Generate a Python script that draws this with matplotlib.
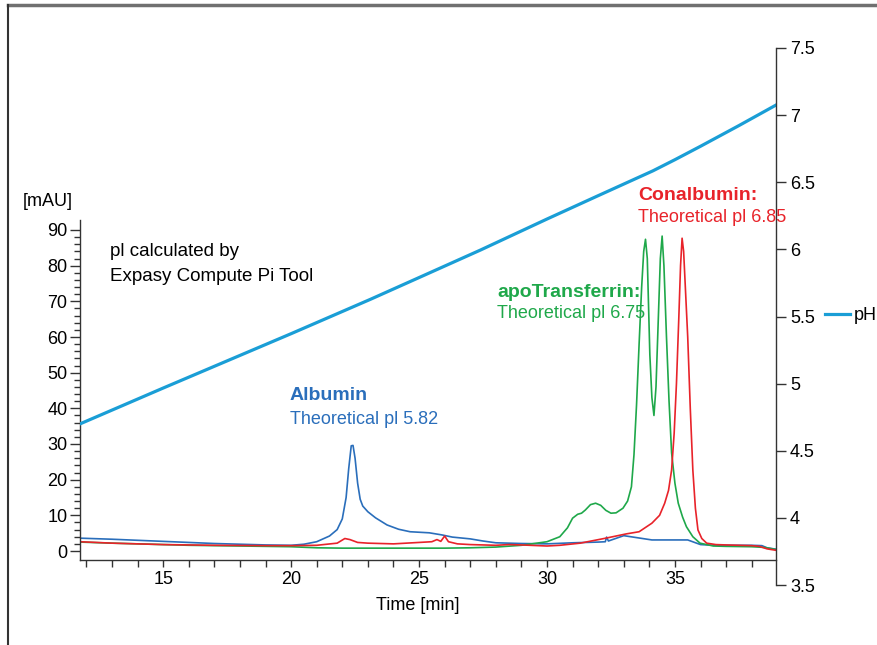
import numpy as np
import matplotlib
matplotlib.use('Agg')
import matplotlib.pyplot as plt
from matplotlib.lines import Line2D
from matplotlib.ticker import FixedLocator, FormatStrFormatter

plt.rcParams['font.family'] = ['Liberation Sans Narrow', 'Liberation Sans', 'DejaVu Sans']

# pH gradient (right axis)
ph_time = [11.75, 15, 20, 23.1, 25, 27.4, 30, 32, 34.14, 35, 36, 37.5, 38.95]
ph_value = [4.70, 4.967, 5.372, 5.628, 5.79, 5.995, 6.226, 6.40, 6.585, 6.668, 6.768, 6.922,
            7.075]

# Albumin trace
alb_time = [11.75, 13, 14, 15, 16, 17, 18, 19, 20, 20.5, 21.0, 21.5, 21.8, 22.0, 22.15,
            22.25, 22.35, 22.42, 22.5, 22.6, 22.7, 22.8, 23.0, 23.3, 23.75, 24.2, 24.65,
            25.4, 25.9, 26.3, 27.0, 27.5, 28, 29, 30, 31, 32, 32.28, 32.33, 32.4, 33,
            34.1, 35.5, 36, 36.5, 37, 38, 38.4, 38.6, 38.95]
alb_mau = [3.6, 3.3, 3.0, 2.7, 2.4, 2.1, 1.9, 1.7, 1.6, 1.9, 2.6, 4.2, 6.0, 9.0, 15,
           23, 29.5, 29.6, 26, 19, 14.5, 12.6, 11.0, 9.3, 7.3, 6.1, 5.4,
           5.1, 4.5, 3.9, 3.4, 2.8, 2.3, 2.1, 2.0, 2.3, 2.5, 2.6, 3.9, 2.8, 4.3,
           3.1, 3.1, 1.8, 1.6, 1.6, 1.6, 1.5, 0.9, 0.5]

# apoTransferrin trace
apo_time = [11.75, 13, 14, 15, 16, 17, 18, 19, 20, 21, 22, 24, 26, 27, 28, 29, 30, 30.5,
            30.8, 31.0, 31.2, 31.35, 31.5, 31.7, 31.9, 32.1, 32.3, 32.5, 32.7, 32.97,
            33.15, 33.3, 33.4, 33.5, 33.6, 33.7, 33.78, 33.85, 33.92, 34.02, 34.1, 34.18,
            34.26, 34.35, 34.43, 34.5, 34.57, 34.67, 34.77, 34.87, 35.0, 35.13, 35.3,
            35.45, 35.7, 35.98, 36.5, 37, 38, 38.5, 38.95]
apo_mau = [2.5, 2.2, 2.0, 1.8, 1.6, 1.5, 1.4, 1.3, 1.2, 0.9, 0.8, 0.8, 0.8, 0.9, 1.1, 1.6, 2.6, 4.0,
           6.5, 9.2, 10.3, 10.6, 11.5, 13.0, 13.4, 12.8, 11.4, 10.6, 10.7, 12.0,
           14, 18, 27, 41, 58, 74, 84, 87.4, 82, 55, 43, 38,
           46, 65, 82, 88.3, 80, 60, 42, 27.5, 19, 13.4, 9.5,
           6.8, 4.0, 2.2, 1.4, 1.3, 1.2, 1.0, 0.4]

# Conalbumin trace
con_time = [11.75, 13, 15, 17, 19, 20, 21, 21.8, 22.1, 22.3, 22.6, 23, 24, 24.5, 25, 25.5,
            25.7, 25.85, 26.0, 26.15, 26.5, 27, 28, 28.5, 29, 30, 30.5, 31.3, 32.3, 33.1,
            33.6, 34.1, 34.4, 34.6, 34.75, 34.87, 34.97, 35.06, 35.15, 35.22, 35.28, 35.34,
            35.42, 35.5, 35.6, 35.7, 35.8, 35.9, 36.05, 36.24, 36.6, 37, 37.5, 38, 38.3,
            38.6, 38.95]
con_mau = [2.6, 2.2, 1.8, 1.6, 1.5, 1.5, 1.6, 2.2, 3.5, 3.2, 2.4, 2.2, 2.0, 2.2, 2.4, 2.6,
           3.2, 2.7, 4.2, 2.6, 2.0, 1.8, 1.6, 1.8, 1.7, 1.4, 1.6, 2.2, 3.6, 4.8,
           5.4, 7.8, 10, 13.4, 17, 22.7, 33, 47, 65, 80, 87.7, 84,
           72, 60, 40, 22.7, 12, 5.9, 3.5, 2.2, 1.8, 1.7, 1.6, 1.5, 1.3,
           0.6, 0.2]

W, H = 878, 645
fig = plt.figure(figsize=(W / 100, H / 100), dpi=100)

# axes box spans the pH axis; the mAU axis uses part of it
ax = fig.add_axes([80 / W, (H - 585) / H, (776 - 80) / W, (585 - 48) / H])
ax2 = ax.twinx()

px_per_mau = (551 - 230) / 90
ax.set_ylim((551 - 585) / px_per_mau, (551 - 48) / px_per_mau)
ax.set_xlim(11.75, 38.95)
ax2.set_ylim(3.5, 7.5)

ax.plot(alb_time, alb_mau, color='#2a6ebb', lw=1.2)
ax.plot(apo_time, apo_mau, color='#1fa84a', lw=1.2)
ax.plot(con_time, con_mau, color='#e8232a', lw=1.2)
ax2.plot(ph_time, ph_value, color='#1a9ed6', lw=2.3, label='pH')

# spines
x_axis_y = (551 - 560) / px_per_mau
ax.spines['top'].set_visible(False)
ax.spines['right'].set_visible(False)
ax.spines['left'].set_bounds(x_axis_y, (551 - 220) / px_per_mau)
ax.spines['bottom'].set_position(('data', x_axis_y))
ax2.spines['top'].set_visible(False)
ax2.spines['left'].set_visible(False)
ax2.spines['bottom'].set_visible(False)
for s in [ax.spines['left'], ax.spines['bottom'], ax2.spines['right']]:
    s.set_color('#333333')
    s.set_linewidth(1.0)

# ticks
ax.xaxis.set_major_locator(FixedLocator([15, 20, 25, 30, 35]))
ax.xaxis.set_minor_locator(FixedLocator(np.arange(12, 39, 1)))
ax.yaxis.set_major_locator(FixedLocator(np.arange(0, 91, 10)))
ax.yaxis.set_minor_locator(FixedLocator(np.arange(0, 91, 2)))
ax.tick_params(axis='x', which='both', direction='out', length=5, width=1,
               color='#333333', labelsize=13, pad=3)
ax.tick_params(axis='y', which='major', direction='out', length=7, width=1,
               color='#333333', labelsize=13, pad=2)
ax.tick_params(axis='y', which='minor', direction='out', length=4, width=1, color='#333333')
ax2.yaxis.set_major_locator(FixedLocator(np.arange(3.5, 7.51, 0.5)))
ax2.yaxis.set_major_formatter(FormatStrFormatter('%g'))
ax2.tick_params(axis='y', direction='out', length=7, width=1, color='#333333',
                labelsize=13, pad=3)

# axis titles
fig.text(48 / W, 1 - 202 / H, '[mAU]', fontsize=13, ha='center', va='center')
fig.text(418 / W, 1 - 605 / H, 'Time [min]', fontsize=13, ha='center', va='center')

ax2.legend(loc='center left', bbox_to_anchor=(825 / W, 1 - 316 / H),
           bbox_transform=fig.transFigure, frameon=False, fontsize=13,
           handlelength=1.4, handletextpad=0.2, borderpad=0, borderaxespad=0)

# annotations
fig.text(110 / W, 1 - 252 / H, 'pl calculated by', fontsize=13.5, va='center')
fig.text(110 / W, 1 - 276 / H, 'Expasy Compute Pi Tool', fontsize=13.5, va='center')

fig.text(290 / W, 1 - 396 / H, 'Albumin', fontsize=14, fontweight='bold',
         color='#2a6ebb', va='center')
fig.text(290 / W, 1 - 419 / H, 'Theoretical pl 5.82', fontsize=13,
         color='#2a6ebb', va='center')
fig.text(497 / W, 1 - 292 / H, 'apoTransferrin:', fontsize=14, fontweight='bold',
         color='#1fa84a', va='center')
fig.text(497 / W, 1 - 313 / H, 'Theoretical pl 6.75', fontsize=13,
         color='#1fa84a', va='center')
fig.text(638 / W, 1 - 195 / H, 'Conalbumin:', fontsize=14, fontweight='bold',
         color='#e8232a', va='center')
fig.text(638 / W, 1 - 217 / H, 'Theoretical pl 6.85', fontsize=13,
         color='#e8232a', va='center')

# page frame
fig.add_artist(Line2D([8 / W, 1], [1 - 5 / H, 1 - 5 / H], color='#707070', lw=2.5,
                      transform=fig.transFigure))
fig.add_artist(Line2D([8 / W, 8 / W], [0, 1 - 5 / H], color='#333333', lw=1.5,
                      transform=fig.transFigure))

fig.savefig('out.png', dpi=100)
